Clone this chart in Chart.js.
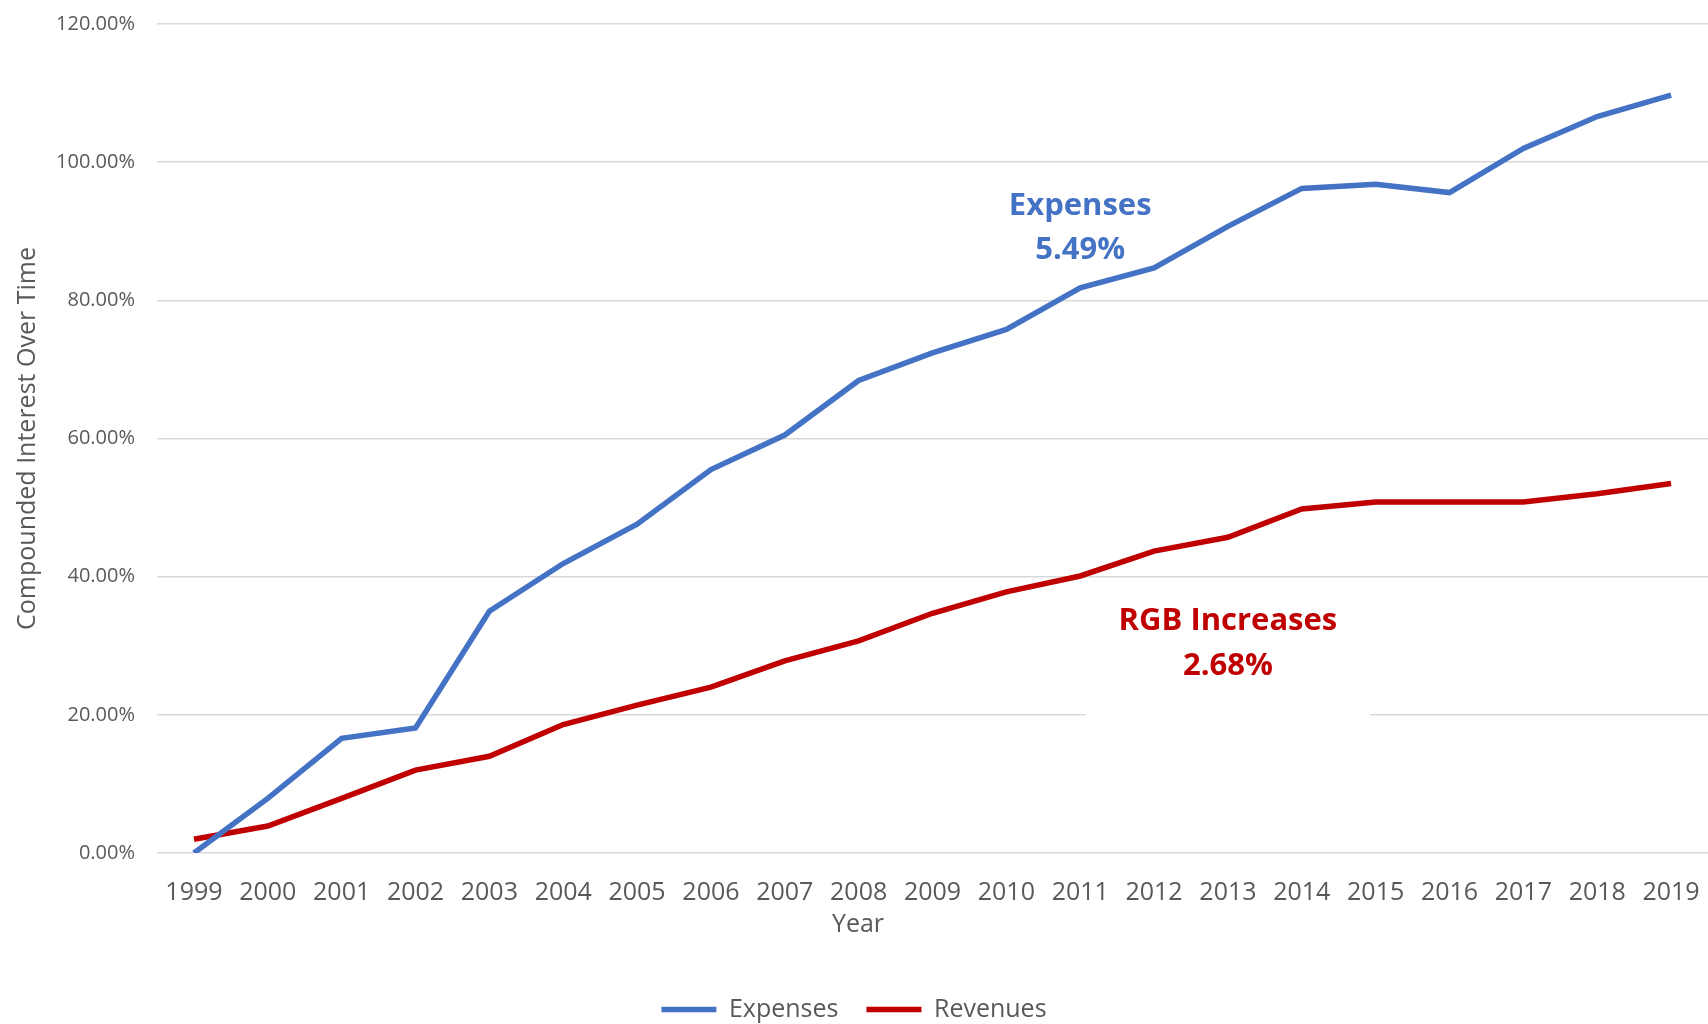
<!DOCTYPE html>
<html>
<head>
<meta charset="utf-8">
<script src="https://cdn.jsdelivr.net/npm/chart.js@4"></script>
<style>
  body { margin: 0; background: #fff; }
</style>
</head>
<body>
<canvas id="chart" width="1708" height="1024"></canvas>
<script>
const years = ['1999','2000','2001','2002','2003','2004','2005','2006','2007','2008','2009',
  '2010','2011','2012','2013','2014','2015','2016','2017','2018','2019'];
const expenses = [0, 7.9, 16.6, 18.1, 35.0, 41.9, 47.6, 55.5, 60.5, 68.4, 72.4,
  75.8, 81.8, 84.7, 90.7, 96.2, 96.8, 95.6, 102.0, 106.6, 109.7];
const revenues = [2.0, 3.9, 7.9, 12.0, 14.0, 18.6, 21.4, 24.0, 27.8, 30.7, 34.7,
  37.8, 40.1, 43.7, 45.7, 49.8, 50.8, 50.8, 50.8, 52.0, 53.5];
const yTicks = [0, 20, 40, 60, 80, 100, 120];

const BLUE = '#4472C4';
const RED = '#C00000';
const GREY = '#595959';
const FONT = '"Open Sans", sans-serif';

// growth-rate callouts + the x axis title
const callouts = {
  id: 'callouts',
  beforeDatasetsDraw(chart) {
    const {ctx, scales: {x, y}} = chart;
    // white text box behind the revenue callout (hides part of the 20% line)
    const x0 = x.getPixelForValue(12.07), x1 = x.getPixelForValue(15.93);
    const y0 = y.getPixelForValue(37.5), y1 = y.getPixelForValue(19.4);
    ctx.save();
    ctx.fillStyle = '#fff';
    ctx.fillRect(x0, y0, x1 - x0, y1 - y0);
    ctx.restore();
  },
  afterDatasetsDraw(chart) {
    const {ctx, scales: {x, y}} = chart;
    ctx.save();
    ctx.textAlign = 'center';
    ctx.textBaseline = 'middle';
    ctx.font = 'bold 31px ' + FONT;
    ctx.fillStyle = BLUE;
    ctx.fillText('Expenses', x.getPixelForValue(12), y.getPixelForValue(93.7));
    ctx.fillText('5.49%', x.getPixelForValue(12), y.getPixelForValue(87.2));
    ctx.fillStyle = RED;
    ctx.fillText('RGB Increases', x.getPixelForValue(14), y.getPixelForValue(33.6));
    ctx.fillText('2.68%', x.getPixelForValue(14), y.getPixelForValue(27.1));

    ctx.font = '25px ' + FONT;
    ctx.fillStyle = GREY;
    ctx.fillText('Year', 858, 925);
    ctx.restore();
  }
};

new Chart(document.getElementById('chart'), {
  type: 'line',
  data: {
    labels: years,
    datasets: [
      {label: 'Expenses', data: expenses, borderColor: BLUE, backgroundColor: BLUE,
       borderWidth: 5.5, pointRadius: 0, tension: 0},
      {label: 'Revenues', data: revenues, borderColor: RED, backgroundColor: RED,
       borderWidth: 5.5, pointRadius: 0, tension: 0}
    ]
  },
  options: {
    responsive: false,
    devicePixelRatio: 1,
    animation: false,
    // legend box hangs a little below the canvas so its row sits low
    layout: {padding: {top: 24, right: 0, left: 0, bottom: -8}},
    scales: {
      x: {
        offset: true,
        grid: {display: false},
        border: {display: false},
        ticks: {color: GREY, font: {family: FONT, size: 25}, padding: 17, maxRotation: 0, autoSkip: false},
        afterFit: s => { s.height = 116; s.paddingLeft = 0; s.paddingRight = 0; }
      },
      y: {
        min: 0,
        max: 120,
        afterBuildTicks: s => { s.ticks = yTicks.map(v => ({value: v})); },
        grid: {color: '#D9D9D9', lineWidth: 1.5, drawTicks: false},
        border: {display: false},
        ticks: {color: GREY, font: {family: FONT, size: 20}, padding: 22,
                callback: v => v.toFixed(2) + '%'},
        title: {display: true, text: 'Compounded Interest Over Time', color: GREY,
                font: {family: FONT, size: 25}, padding: {top: 13, bottom: 0}},
        afterFit: s => { s.width = 157; s.paddingTop = 0; s.paddingBottom = 0; }
      }
    },
    plugins: {
      legend: {
        position: 'bottom',
        labels: {
          color: GREY,
          font: {family: FONT, size: 25},
          usePointStyle: true,
          pointStyle: 'line',
          pointStyleWidth: 55,
          padding: 28
        }
      },
      tooltip: {enabled: false}
    }
  },
  plugins: [callouts]
});
</script>
</body>
</html>
